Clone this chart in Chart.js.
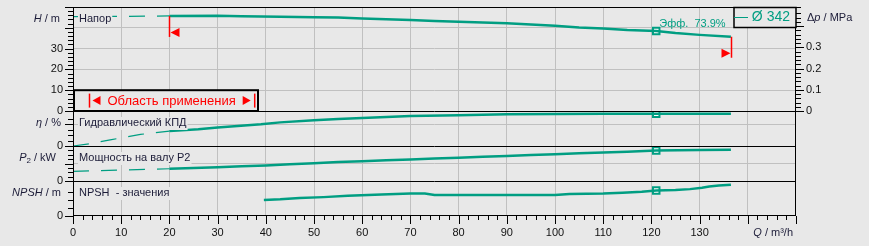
<!DOCTYPE html>
<html>
<head>
<meta charset="utf-8">
<script src="https://cdn.jsdelivr.net/npm/chart.js@4.4.1/dist/chart.umd.min.js"></script>
<style>
  html, body { margin: 0; padding: 0; background: #e8e8e8; }
  canvas { display: block; }
</style>
</head>
<body>
<canvas id="pumpChart" width="869" height="246"></canvas>
<script>
// ---------- DATA ----------
const headQ = [0, 10, 20, 30, 35, 43, 50, 55, 60, 65, 70, 75, 80, 85, 90, 95, 100, 105, 110, 115, 121, 125, 130, 136.5];
const headH = [45.4, 45.5, 45.7, 45.8, 45.5, 45.3, 45.1, 44.9, 44.5, 44.1, 43.7, 43.3, 42.9, 42.5, 42.2, 41.6, 41.0, 40.2, 39.7, 38.9, 38.5, 37.5, 36.6, 35.7];

const effQ = [0, 3.5, 8, 14, 20, 26, 30, 39, 43, 50, 55, 60, 65, 70, 80, 90, 100, 110, 121, 130, 136.5];
const effEta = [0, 5.3, 14.5, 26.5, 34, 38.5, 42.5, 49.6, 54, 58.7, 61.7, 64, 66.5, 68.5, 70.5, 72.4, 73.2, 73.8, 73.9, 73.8, 73.6];

const powerQ = [0, 5, 10, 15, 20, 25, 30, 35, 40, 45, 50, 55, 60, 65, 70, 75, 80, 85, 90, 95, 100, 105, 110, 115, 121, 130, 136.5];
const powerP = [5.5, 5.9, 6.3, 6.6, 7.0, 7.4, 7.9, 8.4, 8.9, 9.6, 10.2, 10.8, 11.3, 11.8, 12.3, 12.8, 13.3, 13.8, 14.3, 14.8, 15.3, 15.9, 16.3, 16.7, 17.4, 17.7, 17.9];

const npshQ = [39.6, 43, 47, 52, 57, 64, 70, 73, 75, 100, 103, 110, 114, 118, 121, 125, 128, 130.5, 132, 134, 136.5];
const npshM = [5.0, 5.2, 5.6, 5.9, 6.3, 6.7, 7.0, 7.0, 6.6, 6.6, 6.9, 7.0, 7.3, 7.6, 7.95, 8.1, 8.4, 8.8, 9.2, 9.5, 9.8];

// duty point
const opQ = 121;
const opH = 38.5;
const opEta = 73.9;
const opP = 17.4;
const opNpsh = 7.95;

// application range
const qMin = 20;
const qMax = 136.5;

const impeller = 'Ø 342';
const panelNames = ['Напор', 'Гидравлический КПД', 'Мощность на валу P2', 'NPSH  - значения'];
const rangeText = 'Область применения';

// tick labels
const qLabels = [0, 10, 20, 30, 40, 50, 60, 70, 80, 90, 100, 110, 120, 130];
const hLabels = [0, 10, 20, 30];
const dpLabels = [0, 0.1, 0.2, 0.3];

// ---------- STYLE ----------
const FONT = '"Liberation Sans", Arial, sans-serif';
const BG = '#e8e8e8';
const GRID = '#c0c0c0';
const TEAL = '#009e82';
const RED = '#ff0000';
const INK = '#111111';
const NAVY = '#1c1c38';

const near = (a, b) => Math.abs(a - b) < 1e-6;
const pts = (qs, vs) => qs.map((q, i) => ({ x: q, y: vs[i] }));

function valueAt(qs, vs, q) {
	for (let i = 1; i < qs.length; i++) {
		if (q <= qs[i]) {
			const t = (q - qs[i - 1]) / (qs[i] - qs[i - 1]);
			return vs[i - 1] + t * (vs[i] - vs[i - 1]);
		}
	}
	return vs[vs.length - 1];
}

// dashed part below qMin, solid part in the application range
function curve(qs, vs, axis) {
	const all = pts(qs, vs);
	const out = [];
	const dashed = all.filter((p) => p.x <= qMin);
	if (dashed.length > 1) {
		out.push({
			data: dashed, yAxisID: axis, showLine: true, pointRadius: 0,
			borderColor: TEAL, borderWidth: 1.2, borderDash: [16, 12],
		});
	}
	out.push({
		data: all.filter((p) => p.x >= qMin), yAxisID: axis, showLine: true, pointRadius: 0,
		borderColor: TEAL, borderWidth: 2.5,
	});
	return out;
}

function marker(q, v, axis) {
	return {
		data: [{ x: q, y: v }], yAxisID: axis, showLine: false,
		pointStyle: 'rect', pointRadius: 4.6, borderWidth: 2,
		borderColor: TEAL, backgroundColor: '#ffffff',
	};
}

const tickFont = { family: FONT, size: 11 };
const hidden = 'rgba(0,0,0,0)';

// no extra label padding around the axes, sizes are fixed
function noPad(s) {
	s.paddingTop = 0;
	s.paddingBottom = 0;
	s.paddingLeft = 0;
	s.paddingRight = 0;
}

function yScale(opts) {
	return {
		type: 'linear',
		position: opts.position || 'left',
		stack: opts.position === 'right' ? 'right' : 'left',
		stackWeight: opts.stackWeight,
		weight: opts.weight,
		min: opts.min,
		max: opts.max,
		ticks: {
			stepSize: opts.step,
			autoSkip: false,
			padding: 10,
			color: INK,
			font: tickFont,
			display: opts.labels !== null,
			callback: (v) => (opts.labels || []).some((l) => near(l, v)) ? String(v) : '',
		},
		grid: {
			drawTicks: false,
			drawOnChartArea: !!opts.grid,
			color: (c) => (opts.grid || []).some((g) => near(g, c.tick.value)) ? GRID : hidden,
		},
		border: { display: false },
		afterFit: (s) => { s.width = 73; noPad(s); },
	};
}

// ---------- PLUGINS ----------
function drawParts(ctx, parts, x, y, align) {
	const fontOf = (p) => `${p.i ? 'italic ' : ''}${p.s ? 8 : 11}px ${FONT}`;
	const widths = parts.map((p) => { ctx.font = fontOf(p); return ctx.measureText(p.t).width; });
	const total = widths.reduce((a, b) => a + b, 0);
	let cx = align === 'right' ? x - total : x;
	ctx.textAlign = 'left';
	ctx.textBaseline = 'middle';
	parts.forEach((p, i) => {
		ctx.font = fontOf(p);
		ctx.fillText(p.t, cx, p.s ? y + 3 : y);
		cx += widths[i];
	});
}

const tickMarks = {
	id: 'tickMarks',
	afterDraw(chart) {
		const { ctx, scales: s, chartArea: a } = chart;
		ctx.save();
		ctx.strokeStyle = '#000';
		ctx.lineWidth = 1;
		const majors = {
			yH: (v) => near(v % 10, 0),
			yEta: (v) => near(v, 0) || near(v, 50),
			yP: (v) => near(v, 0) || near(v, 10),
			yN: (v) => near(v, 0) || near(v, 10),
		};
		Object.keys(majors).forEach((id) => {
			const sc = s[id];
			sc.ticks.forEach((t, i) => {
				const y = Math.round(sc.getPixelForTick(i)) + 0.5;
				const len = majors[id](t.value) ? 8 : 5;
				ctx.beginPath(); ctx.moveTo(a.left - len, y); ctx.lineTo(a.left, y); ctx.stroke();
			});
		});
		s.yDp.ticks.forEach((t, i) => {
			const y = Math.round(s.yDp.getPixelForTick(i)) + 0.5;
			const len = near(Math.round(t.value * 10), t.value * 10) ? 8 : 5;
			ctx.beginPath(); ctx.moveTo(a.right, y); ctx.lineTo(a.right + len, y); ctx.stroke();
		});
		s.x.ticks.forEach((t, i) => {
			const x = Math.round(s.x.getPixelForTick(i)) + 0.5;
			const len = t.value % 10 === 0 ? 8 : 4;
			ctx.beginPath(); ctx.moveTo(x, a.bottom); ctx.lineTo(x, a.bottom + len); ctx.stroke();
		});

		// axis names
		ctx.fillStyle = NAVY;
		drawParts(ctx, [{ t: 'H', i: true }, { t: ' / m' }], 60, s.yH.top + 12, 'right');
		drawParts(ctx, [{ t: 'η', i: true }, { t: ' / %' }], 61, s.yEta.top + 12, 'right');
		drawParts(ctx, [{ t: 'P', i: true }, { t: '2', s: true }, { t: ' / kW' }], 56, s.yP.top + 11.5, 'right');
		drawParts(ctx, [{ t: 'NPSH', i: true }, { t: ' / m' }], 61, s.yN.top + 11.5, 'right');
		drawParts(ctx, [{ t: 'Δ' }, { t: 'p', i: true }, { t: ' / MPa' }], a.right + 11, s.yDp.top + 11, 'left');
		drawParts(ctx, [{ t: 'Q', i: true }, { t: ' / m³/h' }], a.right - 3, a.bottom + 17, 'right');
		ctx.restore();
	},
};

const overlay = {
	id: 'overlay',
	afterDatasetsDraw(chart) {
		const { ctx, chartArea: a, scales: s } = chart;
		ctx.save();

		// frame and panel separators
		ctx.strokeStyle = '#000';
		ctx.lineWidth = 1;
		ctx.strokeRect(a.left + 0.5, a.top + 0.5, a.right - a.left - 1, a.bottom - a.top - 1);
		[s.yEta, s.yP, s.yN].forEach((sc) => {
			const y = Math.round(sc.top) + 0.5;
			ctx.beginPath(); ctx.moveTo(a.left, y); ctx.lineTo(a.right, y); ctx.stroke();
		});

		// panel captions
		const panels = [s.yH, s.yEta, s.yP, s.yN];
		ctx.font = `11px ${FONT}`;
		ctx.textBaseline = 'middle';
		ctx.textAlign = 'left';
		panelNames.forEach((name, i) => {
			const y = panels[i].top + 12;
			const w = ctx.measureText(name).width;
			ctx.fillStyle = BG;
			ctx.fillRect(a.left + 5, y - 6, w + 2, 13);
			ctx.fillStyle = NAVY;
			ctx.fillText(name, a.left + 6, y);
		});

		// application range limits
		const bound = (q, dir) => {
			const x = Math.round(s.x.getPixelForValue(q)) + 0.5;
			const top = s.yH.getPixelForValue(valueAt(headQ, headH, q));
			const bottom = top + 21;
			ctx.strokeStyle = RED;
			ctx.lineWidth = 1.5;
			ctx.beginPath(); ctx.moveTo(x, top); ctx.lineTo(x, bottom); ctx.stroke();
			const cy = bottom - 4.5;
			ctx.fillStyle = RED;
			ctx.beginPath();
			ctx.moveTo(x - dir, cy);
			ctx.lineTo(x - dir * 10, cy - 4.5);
			ctx.lineTo(x - dir * 10, cy + 4.5);
			ctx.closePath();
			ctx.fill();
		};
		bound(qMin, -1);
		bound(qMax, 1);

		// efficiency at duty point
		const ox = s.x.getPixelForValue(opQ);
		const oy = s.yH.getPixelForValue(opH);
		ctx.font = `11px ${FONT}`;
		ctx.fillStyle = TEAL;
		ctx.fillText(`Эфф.  ${opEta.toFixed(1)}%`, ox + 3, oy - 7);

		// "Область применения" box
		const bx0 = a.left, bx1 = a.left + 185;
		const by0 = s.yH.getPixelForValue(10), by1 = s.yH.getPixelForValue(0);
		ctx.fillStyle = BG;
		ctx.fillRect(bx0, by0, bx1 - bx0, by1 - by0);
		ctx.strokeStyle = '#000';
		ctx.lineWidth = 2;
		ctx.strokeRect(bx0 + 1, by0, bx1 - bx0 - 1, by1 - by0);
		const cy = (by0 + by1) / 2;
		const bar = (x) => {
			ctx.strokeStyle = RED; ctx.lineWidth = 1.5;
			ctx.beginPath(); ctx.moveTo(x, cy - 7); ctx.lineTo(x, cy + 7); ctx.stroke();
		};
		const tri = (x0, x1) => {
			ctx.fillStyle = RED;
			ctx.beginPath(); ctx.moveTo(x0, cy); ctx.lineTo(x1, cy - 4.5); ctx.lineTo(x1, cy + 4.5); ctx.closePath(); ctx.fill();
		};
		let cx = bx0 + 16.5;
		bar(cx);
		tri(cx + 3, cx + 11);
		ctx.font = `13px ${FONT}`;
		ctx.fillStyle = RED;
		ctx.fillText(rangeText, cx + 18, cy + 0.5);
		cx += 18 + ctx.measureText(rangeText).width + 7;
		tri(cx + 8, cx);
		bar(cx + 12);

		// impeller legend
		const lw = 62, lh = 20;
		ctx.fillStyle = BG;
		ctx.fillRect(a.right - lw, a.top, lw, lh);
		ctx.strokeStyle = '#000';
		ctx.lineWidth = 1.5;
		ctx.strokeRect(a.right - lw, a.top + 0.5, lw, lh);
		ctx.font = `14px ${FONT}`;
		ctx.fillStyle = TEAL;
		ctx.textAlign = 'right';
		ctx.fillText(`— ${impeller}`, a.right - 6, a.top + 10.5);
		ctx.restore();
	},
};

// ---------- CHART ----------
new Chart(document.getElementById('pumpChart'), {
	type: 'scatter',
	data: {
		datasets: [
			...curve(headQ, headH, 'yH'),
			...curve(effQ, effEta, 'yEta'),
			...curve(powerQ, powerP, 'yP'),
			...curve(npshQ, npshM, 'yN'),
			marker(opQ, opH, 'yH'),
			marker(opQ, opEta, 'yEta'),
			marker(opQ, opP, 'yP'),
			marker(opQ, opNpsh, 'yN'),
		],
	},
	options: {
		responsive: false,
		animation: false,
		layout: { autoPadding: false, padding: { top: 7, left: 0, right: 0, bottom: 0 } },
		plugins: { legend: { display: false }, tooltip: { enabled: true } },
		scales: {
			x: {
				type: 'linear',
				position: 'bottom',
				min: 0,
				max: 150,
				ticks: {
					stepSize: 2,
					autoSkip: false,
					maxRotation: 0,
					minRotation: 0,
					padding: 10,
					color: INK,
					font: tickFont,
					callback: (v) => qLabels.includes(v) ? String(v) : '',
				},
				grid: {
					drawTicks: false,
					color: (c) => (c.tick.value % 10 === 0 && c.tick.value > 0 && c.tick.value < 150) ? GRID : hidden,
				},
				border: { display: false },
				afterFit: (s) => { s.height = 30; noPad(s); },
			},
			yH: yScale({ stackWeight: 104, weight: 4, min: 0, max: 50, step: 2, labels: hLabels, grid: [10, 20, 30, 40] }),
			yEta: yScale({ stackWeight: 35, weight: 3, min: 0, max: 80, step: 12.5, labels: [0], grid: [50] }),
			yP: yScale({ stackWeight: 35, weight: 2, min: 0, max: 20, step: 2.5, labels: [0], grid: [10] }),
			yN: yScale({ stackWeight: 35, weight: 1, min: 0, max: 10.94, step: 2.5, labels: [0], grid: [10] }),
			yDp: yScale({ position: 'right', stackWeight: 104, weight: 1, min: 0, max: 0.49, step: 0.02, labels: dpLabels }),
			yRest: yScale({ position: 'right', stackWeight: 105, weight: 2, min: 0, max: 1, step: 1, labels: null }),
		},
	},
	plugins: [overlay, tickMarks],
});
</script>
</body>
</html>
